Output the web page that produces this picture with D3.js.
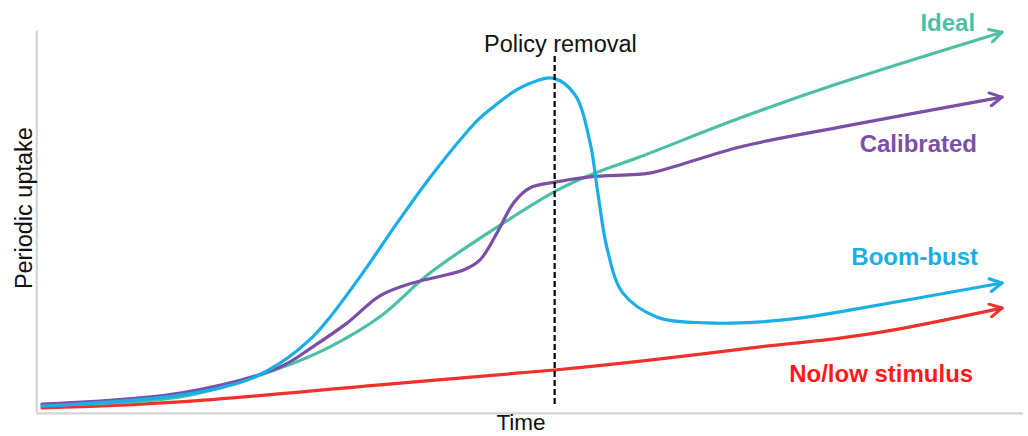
<!DOCTYPE html>
<html><head><meta charset="utf-8">
<script src="https://cdn.jsdelivr.net/npm/d3@7"></script>
<style>
html,body{margin:0;padding:0;background:#fff;}
svg{display:block;font-family:"Liberation Sans",Arial,sans-serif;}
</style></head>
<body><svg id="c" width="1028" height="436"></svg>
<script>
// Time (0-100) and periodic uptake (0-100)
const idealT = [0, 14.4, 24.8, 30, 35.2, 40.4, 47.4, 53.6, 57.1, 62.3, 72.7, 83.1, 100];
const idealV = [0.8, 2.9, 10.5, 16.1, 24, 35.5, 47.6, 57.2, 61.3, 66.1, 76.3, 85.5, 98.9];

const calibT = [0, 14.4, 24.8, 28.2, 31.8, 35.2, 38.6, 43.9, 45.6, 47.4, 49.1, 50.8, 53.6, 57.1, 63.3, 65.7, 72.7, 83.1, 100];
const calibV = [1.05, 3.9, 10.8, 16.1, 22.4, 29.5, 32.9, 36.3, 38.9, 46.1, 53.9, 57.9, 59.5, 60.8, 61.8, 63.4, 68.7, 73.9, 81.8];

const boomT = [0, 14.4, 21.4, 24.8, 28.2, 30, 33.4, 37, 40.4, 43.9, 45.6, 47.4, 49.1, 50.8, 53.2, 55.5, 57.1, 57.9, 58.9, 60.5, 64.1, 69.3, 74.5, 79.7, 83.1, 100];
const boomV = [0.5, 3.4, 7.4, 11.8, 18.7, 23.9, 35.5, 48.7, 60.6, 71.6, 76.3, 80.0, 83.2, 85.4, 86.8, 82.5, 69.7, 56.6, 41.6, 30.3, 23.9, 22.4, 22.6, 23.9, 25.3, 32.9];

const noneT = [0, 14.4, 35.2, 53.4, 63.3, 74.8, 83.1, 88.6, 100];
const noneV = [0, 1.6, 6.1, 10, 12.6, 16.1, 18.4, 20.5, 26.3];

const seriesNames = ["Ideal", "Calibrated", "Boom-bust", "No/low stimulus"];
const seriesColors = ["#4DBFA6", "#7B4FA6", "#19AEE6", "#F0302A"];
const labelColors = ["#4DBFA6", "#7B4FA6", "#19AEE6", "#FF1A1A"];
// label anchor positions (time, uptake), right-aligned
const labelT = [97.2, 97.4, 97.5, 97.0];
const labelV = [99.2, 67.4, 37.6, 6.8];

const policyT = 53.4;
const policyLabel = "Policy removal";
const xTitle = "Time";
const yTitle = "Periodic uptake";

const svg = d3.select("#c");
const x = d3.scaleLinear().domain([0, 100]).range([42, 1002]);
const y = d3.scaleLinear().domain([0, 100]).range([408, 28]);

// axes (no ticks)
const xAxisScale = d3.scaleLinear().domain([-0.6, 102.1]).range([x(-0.6), x(102.1)]);
const yAxisScale = d3.scaleLinear().domain([-1.3, 99.5]).range([y(-1.3), y(99.5)]);
svg.append("g").attr("transform", `translate(0,${y(-1.3)})`)
  .call(d3.axisBottom(xAxisScale).ticks(0).tickSizeOuter(0))
  .call(g => g.select(".domain").attr("stroke", "#d4d4d4").attr("stroke-width", 2.2));
svg.append("g").attr("transform", `translate(${x(-0.6)},0)`)
  .call(d3.axisLeft(yAxisScale).ticks(0).tickSizeOuter(0))
  .call(g => g.select(".domain").attr("stroke", "#d4d4d4").attr("stroke-width", 2.2));

// arrow markers
const defs = svg.append("defs");
seriesColors.forEach((c, i) => {
  defs.append("marker").attr("id", "arr" + i)
    .attr("markerUnits", "userSpaceOnUse")
    .attr("viewBox", "-14 -8 16 16").attr("refX", 0).attr("refY", 0)
    .attr("markerWidth", 16).attr("markerHeight", 16).attr("orient", "auto")
    .append("path").attr("d", "M-12,-6.5 L0,0 L-12,6.5")
    .attr("fill", "none").attr("stroke", c).attr("stroke-width", 3)
    .attr("stroke-linecap", "round").attr("stroke-linejoin", "round");
});

const series = [
  idealT.map((t, i) => [t, idealV[i]]),
  calibT.map((t, i) => [t, calibV[i]]),
  boomT.map((t, i) => [t, boomV[i]]),
  noneT.map((t, i) => [t, noneV[i]])
];

const line = d3.line().x(d => x(d[0])).y(d => y(d[1])).curve(d3.curveCatmullRom.alpha(0.5));

// draw order: red, teal, purple, cyan
[3, 0, 1, 2].forEach(i => {
  svg.append("path").datum(series[i])
    .attr("d", line).attr("fill", "none")
    .attr("stroke", seriesColors[i]).attr("stroke-width", 3.2)
    .attr("stroke-linecap", "round")
    .attr("marker-end", `url(#arr${i})`);
});

// policy removal dashed line
svg.append("line")
  .attr("x1", x(policyT)).attr("x2", x(policyT))
  .attr("y1", y(92.6)).attr("y2", y(0.3))
  .attr("stroke", "#000").attr("stroke-width", 2.2).attr("stroke-dasharray", "6,3");

svg.append("text").attr("x", x(54)).attr("y", y(93.7))
  .attr("text-anchor", "middle").attr("font-size", 23.5).attr("fill", "#111")
  .text(policyLabel);

// series labels
seriesNames.forEach((n, i) => {
  svg.append("text").attr("x", x(labelT[i])).attr("y", y(labelV[i]))
    .attr("text-anchor", "end").attr("font-size", 24).attr("font-weight", "bold")
    .attr("fill", labelColors[i]).text(n);
});

// axis titles
svg.append("text").attr("x", x(49.9)).attr("y", y(-5.8))
  .attr("text-anchor", "middle").attr("font-size", 22.5).attr("fill", "#111").text(xTitle);
svg.append("text").attr("transform", `translate(32,${y(52.6)}) rotate(-90)`)
  .attr("text-anchor", "middle").attr("font-size", 23.5).attr("fill", "#111").text(yTitle);
</script></body></html>
